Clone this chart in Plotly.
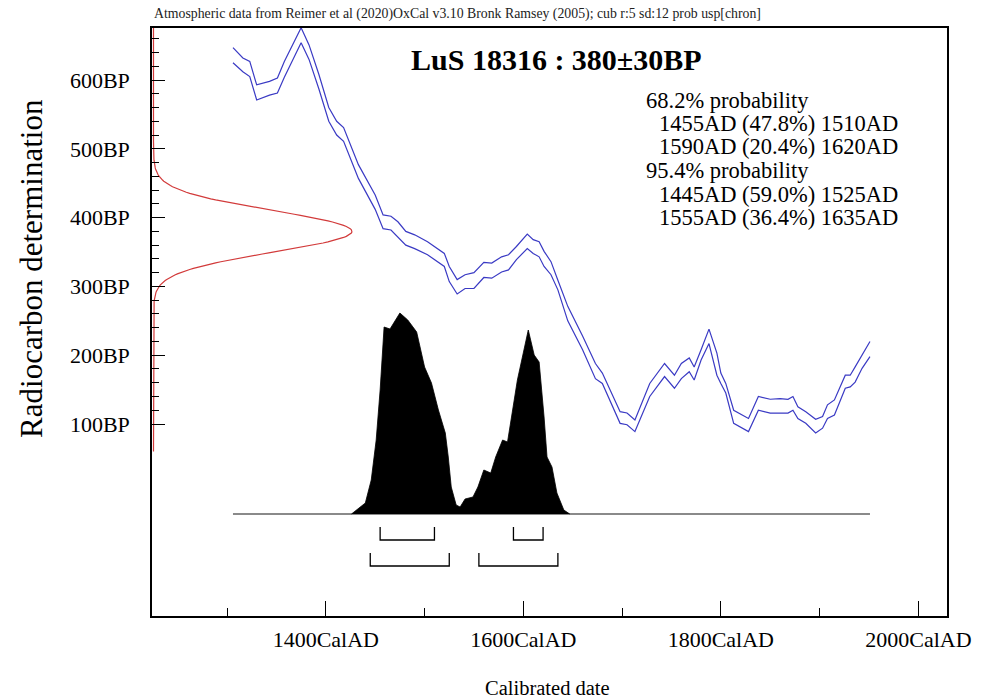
import numpy as np
import plotly.graph_objects as go

# ---------------- data ----------------
# calibration curve (IntCal20 band, upper and lower 1-sigma lines), BP
cal_years = [1306, 1316, 1323, 1330, 1343, 1351, 1358, 1375, 1383, 1393, 1403, 1411, 1418, 1433,
             1450, 1458, 1466, 1473, 1481, 1490, 1503, 1520, 1525, 1533, 1541, 1550, 1560, 1568,
             1578, 1585, 1593, 1604, 1610, 1616, 1621, 1628, 1635, 1645, 1660, 1673, 1680, 1698,
             1705, 1713, 1728, 1743, 1753, 1760, 1768, 1773, 1780, 1788, 1796, 1800, 1805, 1813,
             1828, 1838, 1850, 1860, 1868, 1873, 1878, 1886, 1896, 1903, 1908, 1915, 1926, 1931,
             1936, 1943, 1951]
cal_upper = [647, 632, 627, 593, 598, 603, 627, 676, 651, 608, 560, 540, 531, 477,
             433, 404, 402, 394, 380, 375, 365, 348, 329, 310, 317, 320, 335, 334,
             343, 346, 358, 376, 368, 365, 351, 336, 309, 271, 228, 188, 174, 118,
             116, 106, 159, 188, 171, 188, 196, 183, 208, 238, 203, 174, 159, 120,
             108, 140, 136, 137, 136, 140, 125, 118, 107, 111, 128, 135, 171, 171,
             183, 200, 220]
cal_lower = [625, 612, 605, 571, 578, 581, 604, 654, 630, 587, 540, 520, 511, 457,
             412, 384, 382, 372, 360, 355, 346, 329, 307, 289, 297, 297, 313, 312,
             321, 324, 339, 355, 348, 343, 329, 317, 295, 250, 208, 166, 159, 101,
             99, 89, 140, 169, 152, 166, 176, 164, 193, 217, 171, 159, 145, 101,
             89, 120, 116, 116, 116, 120, 108, 101, 87, 94, 108, 113, 152, 154,
             161, 181, 198]

# calibrated probability distribution (relative units)
dist_years = [1426, 1440, 1446, 1451, 1455, 1458, 1459, 1465, 1475, 1483, 1492, 1500, 1507, 1514,
              1521, 1524, 1527, 1532, 1536, 1541, 1549, 1554, 1560, 1567, 1572, 1579, 1584, 1594,
              1601, 1605, 1611, 1616, 1621, 1624, 1629, 1634, 1641, 1647]
dist_prob = [0, 11, 34, 74, 124, 174, 187, 185, 201, 194, 182, 147, 131, 104,
             81, 57, 27, 9, 7, 15, 17, 27, 44, 41, 57, 74, 72, 134,
             164, 184, 159, 152, 97, 57, 47, 21, 4, 0]

# radiocarbon determination
c14_mean = 380
c14_sigma = 30

# highest posterior density ranges
hpd68 = [(1455, 1510), (1590, 1620)]
hpd95 = [(1445, 1525), (1555, 1635)]

x_ticks = [1400, 1600, 1800, 2000]
x_minor = [1300, 1500, 1700, 1900]
x_ticktext = ["1400CalAD", "1600CalAD", "1800CalAD", "2000CalAD"]
y_ticks = [100, 200, 300, 400, 500, 600]
y_ticktext = ["100BP", "200BP", "300BP", "400BP", "500BP", "600BP"]
y_minor = [v for v in range(120, 661, 20) if v % 100 != 0]

title_text = "LuS 18316 : 380±30BP"
note_text = ("Atmospheric data from Reimer et al (2020)OxCal v3.10 Bronk Ramsey (2005); "
             "cub r:5 sd:12 prob usp[chron]")
range_lines = [("68.2% probability", 0),
               ("1455AD (47.8%) 1510AD", 1),
               ("1590AD (20.4%) 1620AD", 1),
               ("95.4% probability", 0),
               ("1445AD (59.0%) 1525AD", 1),
               ("1555AD (36.4%) 1635AD", 1)]

# ---------------- figure ----------------
FONT = "Liberation Serif"
BLUE = "#3a3ac4"
RED = "#d23a3a"

fig = go.Figure()

L, R, T, B = 152, 30, 28, 83
W, H = 983, 699
pw, ph = W - L - R, H - T - B

# red gaussian of the radiocarbon measurement on the y axis
bp = np.linspace(60, 700, 400)
g = 200 * np.exp(-0.5 * ((bp - c14_mean) / c14_sigma) ** 2)
fig.add_trace(go.Scatter(x=g, y=bp, xaxis="x2", yaxis="y", mode="lines",
                         line=dict(color=RED, width=1.2), hoverinfo="skip"))

# calibration curve
fig.add_trace(go.Scatter(x=cal_years, y=cal_upper, mode="lines",
                         line=dict(color=BLUE, width=1.2)))
fig.add_trace(go.Scatter(x=cal_years, y=cal_lower, mode="lines",
                         line=dict(color=BLUE, width=1.2)))

# baseline of the distribution
fig.add_trace(go.Scatter(x=[cal_years[0], cal_years[-1]], y=[0, 0], xaxis="x", yaxis="y2",
                         mode="lines", line=dict(color="#8a8a8a", width=2)))

# probability distribution
fig.add_trace(go.Scatter(x=dist_years, y=dist_prob, xaxis="x", yaxis="y2", mode="lines",
                         fill="tozeroy", fillcolor="black", line=dict(color="black", width=0.8)))

# range brackets
def bracket(ranges, ybot, ytop):
    for a, b in ranges:
        fig.add_trace(go.Scatter(x=[a, a, b, b], y=[ytop, ybot, ybot, ytop], xaxis="x", yaxis="y2",
                                 mode="lines", line=dict(color="black", width=1.3)))

bracket(hpd68, -26, -13)
bracket(hpd95, -52, -39)

def px(xp):
    return (xp - L) / pw

def py(yp):
    return (H - B - yp) / ph

fig.update_layout(
    width=W, height=H, showlegend=False,
    margin=dict(l=L, r=R, t=T, b=B),
    paper_bgcolor="white", plot_bgcolor="white",
    font=dict(family=FONT, color="black"),
    xaxis=dict(range=[1224, 2029], tickvals=x_ticks, ticktext=x_ticktext,
               ticks="inside", ticklen=15, tickwidth=1.3, tickcolor="black",
               minor=dict(tickvals=x_minor, ticks="inside", ticklen=8, tickwidth=1.3,
                          tickcolor="black", showgrid=False),
               showline=True, linecolor="black", linewidth=1.5, mirror=True,
               showgrid=False, zeroline=False, ticklabelstandoff=3,
               tickfont=dict(family=FONT, size=22, color="black")),
    xaxis2=dict(range=[-1.5, pw - 1.5], overlaying="x", visible=False),
    yaxis=dict(range=[-179, 675.6], tickvals=y_ticks, ticktext=y_ticktext,
               ticks="inside", ticklen=13, tickwidth=1.3, tickcolor="black",
               minor=dict(tickvals=y_minor, ticks="inside", ticklen=7, tickwidth=1.3,
                          tickcolor="black", showgrid=False),
               showline=True, linecolor="black", linewidth=1.5, mirror=True,
               showgrid=False, zeroline=False, ticklabelstandoff=16,
               tickfont=dict(family=FONT, size=22, color="black")),
    yaxis2=dict(range=[-102, 486], overlaying="y", visible=False),
)

ann = []
ann.append(dict(text=note_text, x=px(152), y=py(14), xref="paper", yref="paper",
                xanchor="left", yanchor="middle", showarrow=False,
                font=dict(family=FONT, size=13.8, color="#222")))
ann.append(dict(text="<b>" + title_text + "</b>", x=px(560), y=py(60), xref="paper", yref="paper",
                xanchor="center", yanchor="middle", showarrow=False,
                font=dict(family=FONT, size=30, color="black")))
ys = [100, 123.5, 147, 170.5, 194, 217.5]
for (txt, ind), yy in zip(range_lines, ys):
    ann.append(dict(text=txt, x=px(648 + 13 * ind), y=py(yy), xref="paper", yref="paper",
                    xanchor="left", yanchor="middle", showarrow=False,
                    font=dict(family=FONT, size=22.5, color="black")))
ann.append(dict(text="Radiocarbon determination", x=px(30), y=py(268), xref="paper", yref="paper",
                xanchor="center", yanchor="middle", textangle=-90, showarrow=False,
                font=dict(family=FONT, size=31, color="black")))
ann.append(dict(text="Calibrated date", x=px(550), y=py(688), xref="paper", yref="paper",
                xanchor="center", yanchor="middle", showarrow=False,
                font=dict(family=FONT, size=20.5, color="black")))
fig.update_layout(annotations=ann)

fig.write_html("out.html", config={"displayModeBar": False},
               post_script="document.body.style.margin='0px';"
                           "document.body.style.overflow='hidden';"
                           "document.documentElement.style.overflow='hidden';")
